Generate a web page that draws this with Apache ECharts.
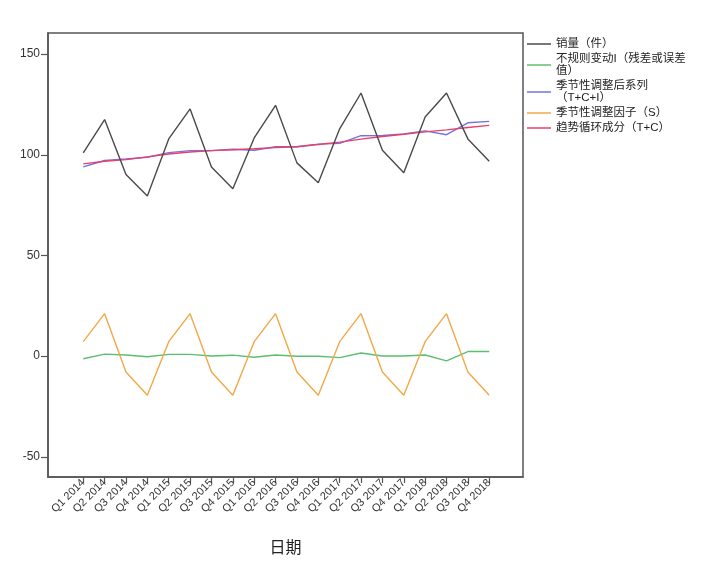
<!DOCTYPE html>
<html>
<head>
<meta charset="utf-8">
<script src="https://cdn.jsdelivr.net/npm/echarts@6/dist/echarts.min.js"></script>
<style>
html,body{margin:0;padding:0;background:#fff;}
#chart{width:703px;height:562px;}
</style>
</head>
<body>
<div id="chart"></div>
<script>
var categories = ['Q1 2014','Q2 2014','Q3 2014','Q4 2014','Q1 2015','Q2 2015','Q3 2015','Q4 2015','Q1 2016','Q2 2016','Q3 2016','Q4 2016','Q1 2017','Q2 2017','Q3 2017','Q4 2017','Q1 2018','Q2 2018','Q3 2018','Q4 2018'];
var sales = [101, 117.5, 90.2, 79.5, 107.9, 122.8, 94, 83.2, 108.4, 124.6, 96, 86.1, 112.9, 130.7, 102.3, 91.1, 118.8, 130.7, 107.9, 96.8];
var irregular = [-1.3, 1.0, 0.6, -0.3, 0.9, 0.9, 0.1, 0.5, -0.5, 0.6, 0, 0, -0.7, 1.6, 0.1, 0.1, 0.6, -2.3, 2.3, 2.3];
var adjusted = [94, 97.2, 97.9, 98.8, 101.1, 102.1, 102.1, 102.8, 102.3, 104, 104, 105.3, 105.7, 109.5, 109.6, 110.4, 111.9, 110, 115.9, 116.6];
var seasonal = [7.2, 21.1, -7.9, -19.4, 7.2, 21.1, -7.9, -19.4, 7.2, 21.1, -7.9, -19.4, 7.2, 21.1, -7.9, -19.4, 7.2, 21.1, -7.9, -19.4];
var trend = [95.5, 96.8, 97.6, 99, 100.4, 101.4, 102.1, 102.5, 103, 103.6, 104, 105.1, 106.3, 107.8, 109.1, 110.2, 111.4, 112.4, 113.6, 114.6];
var yTicks = [-50, 0, 50, 100, 150];
var seriesNames = ['销量（件）', '不规则变动I（残差或误差值）', '季节性调整后系列（T+C+I）', '季节性调整因子（S）', '趋势循环成分（T+C）'];
var legendLabels = ['销量（件）', '不规则变动I（残差或误差\n值）', '季节性调整后系列\n（T+C+I）', '季节性调整因子（S）', '趋势循环成分（T+C）'];
var xAxisTitle = '日期';

function pairs(arr){ return arr.map(function(v,i){ return [i, v]; }); }
var idx = categories.map(function(c,i){ return i; });
var FONT = '"Liberation Sans","Noto Sans CJK SC",sans-serif';

var chart = echarts.init(document.getElementById('chart'));
chart.setOption({
  animation: false,
  backgroundColor: '#fff',
  grid: { left: 48, top: 33, right: 180, bottom: 83, show: true, borderColor: '#555', borderWidth: 1.5, backgroundColor: 'transparent' },
  legend: {
    orient: 'vertical', left: 522, top: 33,
    icon: 'rect', itemWidth: 24, itemHeight: 1.5, itemGap: 3,
    data: seriesNames,
    formatter: function(n){ return legendLabels[seriesNames.indexOf(n)]; },
    textStyle: { fontSize: 11.5, lineHeight: 12, color: '#222', fontFamily: FONT }
  },
  xAxis: {
    type: 'value', min: -1.65, max: 20.58,
    name: xAxisTitle, nameLocation: 'middle', nameGap: 64,
    nameTextStyle: { fontSize: 16, color: '#222', fontFamily: FONT },
    axisLine: { show: true, onZero: false, lineStyle: { color: '#555', width: 1.5 } },
    axisTick: { show: true, length: 6, customValues: idx, lineStyle: { color: '#555', width: 1.2 } },
    axisLabel: { customValues: idx, rotate: 45, margin: 4, fontSize: 11, color: '#333', fontFamily: FONT,
      formatter: function(v){ return categories[Math.round(v)]; } },
    splitLine: { show: false }
  },
  yAxis: {
    type: 'value', min: -60, max: 160.5,
    axisLine: { show: true, onZero: false, lineStyle: { color: '#555', width: 1.5 } },
    axisTick: { show: true, length: 7, customValues: yTicks, lineStyle: { color: '#555', width: 1.2 } },
    axisLabel: { customValues: yTicks, margin: 8, fontSize: 12, color: '#333', fontFamily: FONT },
    splitLine: { show: false }
  },
  series: [
    { name: seriesNames[1], type: 'line', data: pairs(irregular), showSymbol: false, symbol: 'none', lineStyle: { color: '#5cbf6e', width: 1.4 }, itemStyle: { color: '#5cbf6e' }, z: 2 },
    { name: seriesNames[3], type: 'line', data: pairs(seasonal), showSymbol: false, symbol: 'none', lineStyle: { color: '#f2a848', width: 1.4 }, itemStyle: { color: '#f2a848' }, z: 2 },
    { name: seriesNames[2], type: 'line', data: pairs(adjusted), showSymbol: false, symbol: 'none', lineStyle: { color: '#7272e6', width: 1.4 }, itemStyle: { color: '#7272e6' }, z: 3 },
    { name: seriesNames[4], type: 'line', data: pairs(trend), showSymbol: false, symbol: 'none', lineStyle: { color: '#e8406a', width: 1.4 }, itemStyle: { color: '#e8406a' }, z: 4 },
    { name: seriesNames[0], type: 'line', data: pairs(sales), showSymbol: false, symbol: 'none', lineStyle: { color: '#4a4a4a', width: 1.4 }, itemStyle: { color: '#4a4a4a' }, z: 5 }
  ]
});
</script>
</body>
</html>
